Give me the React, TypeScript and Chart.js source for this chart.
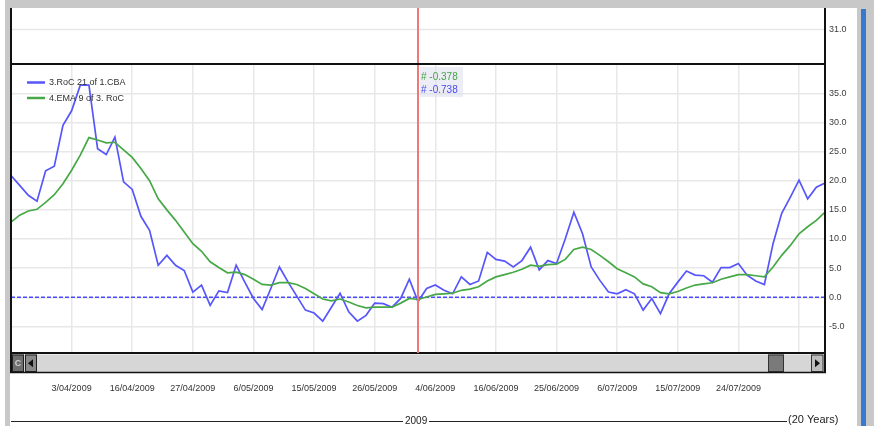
import React, { useEffect, useRef } from 'react';
import { Chart, registerables } from 'chart.js';

Chart.register(...registerables);

const dates = [
  '25/03/2009', '26/03/2009', '27/03/2009', '30/03/2009', '31/03/2009', '1/04/2009', '2/04/2009',
  '3/04/2009', '6/04/2009', '7/04/2009', '8/04/2009', '9/04/2009', '14/04/2009', '15/04/2009',
  '16/04/2009', '17/04/2009', '20/04/2009', '21/04/2009', '22/04/2009', '23/04/2009', '24/04/2009',
  '27/04/2009', '28/04/2009', '29/04/2009', '30/04/2009', '1/05/2009', '4/05/2009', '5/05/2009',
  '6/05/2009', '7/05/2009', '8/05/2009', '11/05/2009', '12/05/2009', '13/05/2009', '14/05/2009',
  '15/05/2009', '18/05/2009', '19/05/2009', '20/05/2009', '21/05/2009', '22/05/2009', '25/05/2009',
  '26/05/2009', '27/05/2009', '28/05/2009', '29/05/2009', '1/06/2009', '2/06/2009', '3/06/2009',
  '4/06/2009', '5/06/2009', '9/06/2009', '10/06/2009', '11/06/2009', '12/06/2009', '15/06/2009',
  '16/06/2009', '17/06/2009', '18/06/2009', '19/06/2009', '22/06/2009', '23/06/2009', '24/06/2009',
  '25/06/2009', '26/06/2009', '29/06/2009', '30/06/2009', '1/07/2009', '2/07/2009', '3/07/2009',
  '6/07/2009', '7/07/2009', '8/07/2009', '9/07/2009', '10/07/2009', '13/07/2009', '14/07/2009',
  '15/07/2009', '16/07/2009', '17/07/2009', '20/07/2009', '21/07/2009', '22/07/2009', '23/07/2009',
  '24/07/2009', '27/07/2009', '28/07/2009', '29/07/2009', '30/07/2009', '31/07/2009', '3/08/2009',
  '4/08/2009', '5/08/2009', '6/08/2009', '7/08/2009',
];

const rocValues = [
  20.9, 19.2, 17.5, 16.5, 21.7, 22.5, 29.5, 32.0, 36.4, 36.4,
  25.5, 24.5, 27.5, 19.8, 18.5, 13.9, 11.5, 5.5, 7.2, 5.5,
  4.6, 0.9, 2.1, -1.4, 1.1, 0.8, 5.5, 2.6, -0.2, -2.1,
  1.5, 5.2, 2.6, 0.2, -2.2, -2.7, -4.1, -1.7, 0.7, -2.5,
  -4.1, -3.1, -1.0, -1.1, -1.7, -0.2, 3.1, -0.738, 1.5, 2.1,
  1.2, 0.6, 3.5, 2.2, 2.8, 7.7, 6.5, 6.2, 5.2, 6.3,
  8.6, 4.7, 6.3, 5.8, 10.0, 14.6, 10.9, 5.2, 2.9, 0.9,
  0.6, 1.3, 0.6, -2.2, -0.2, -2.8, 0.6, 2.6, 4.5, 3.8,
  3.7, 2.6, 5.1, 5.1, 5.8, 3.8, 2.8, 2.2, 9.2, 14.4,
  17.2, 20.1, 16.9, 18.9, 19.6,
];

const emaValues = [
  12.9, 14.1, 14.8, 15.1, 16.3, 17.6, 19.5, 21.8, 24.4, 27.4,
  27.0, 26.5, 26.6, 25.3, 24.0, 22.1, 20.0, 16.9, 15.0, 13.2,
  11.2, 9.2, 7.9, 6.1, 5.1, 4.2, 4.3, 3.9, 3.1, 2.2,
  2.1, 2.5, 2.5, 2.2, 1.5, 0.6, -0.3, -0.6, -0.3, -0.8,
  -1.4, -1.8, -1.7, -1.7, -1.7, -1.0, -0.2, -0.378, 0.05, 0.5,
  0.6, 0.7, 1.2, 1.4, 1.8, 2.8, 3.5, 3.9, 4.3, 4.8,
  5.5, 5.3, 5.6, 5.7, 6.5, 8.2, 8.6, 8.2, 7.2, 6.1,
  4.9, 4.2, 3.5, 2.3, 1.8, 0.8, 0.6, 1.0, 1.6, 2.1,
  2.3, 2.5, 3.1, 3.5, 3.9, 3.9, 3.7, 3.5, 5.2, 7.2,
  8.9, 10.9, 12.1, 13.2, 14.6,
];

const tickLabels = [
  '3/04/2009', '16/04/2009', '27/04/2009', '6/05/2009', '15/05/2009', '26/05/2009',
  '4/06/2009', '16/06/2009', '25/06/2009', '6/07/2009', '15/07/2009', '24/07/2009',
];
const gridOnlyDates = ['4/08/2009'];

const yTicks = [-5, 0, 5, 10, 15, 20, 25, 30, 35];
const topPanelTick = '31.0';
const seriesNames = ['3.RoC 21 of 1.CBA', '4.EMA 9 of 3. RoC'];
const cursorIndex = 47;
const yearLabel = '2009';
const spanLabel = '(20 Years)';

const BLUE = '#5656fa';
const GREEN = '#46a846';
const FONT = '"Liberation Sans", Arial, sans-serif';

const decorPlugin = {
  id: 'decor',
  beforeDraw(chart: any) {
    const { ctx, chartArea: a, width, height } = chart;
    ctx.save();
    ctx.fillStyle = '#ffffff';
    ctx.fillRect(0, 0, width, height);
    ctx.fillStyle = '#c8c8c8';
    ctx.fillRect(5, 0, 855, 8);
    ctx.fillRect(5, 0, 5, height);
    ctx.fillRect(857, 0, width - 857, height);
    ctx.fillStyle = '#3878d0';
    ctx.fillRect(861, 9, 5, height - 9);
    ctx.strokeStyle = '#e8e8e8';
    ctx.lineWidth = 1.5;
    ctx.beginPath();
    ctx.moveTo(a.left, 29.5);
    ctx.lineTo(a.right, 29.5);
    ctx.stroke();
    ctx.fillStyle = '#404040';
    ctx.font = '9px ' + FONT;
    ctx.textBaseline = 'middle';
    ctx.textAlign = 'left';
    ctx.fillText(topPanelTick, a.right + 4, 30);
    ctx.restore();
  },
  beforeDatasetsDraw(chart: any) {
    const { ctx, chartArea: a, scales } = chart;
    const y0 = scales.y.getPixelForValue(0);
    ctx.save();
    ctx.strokeStyle = '#4c4cff';
    ctx.lineWidth = 1.4;
    ctx.setLineDash([4, 2]);
    ctx.beginPath();
    ctx.moveTo(a.left, y0);
    ctx.lineTo(a.right, y0);
    ctx.stroke();
    ctx.restore();
  },
  afterDatasetsDraw(chart: any) {
    const { ctx, chartArea: a, scales } = chart;
    ctx.save();
    const rows = [
      { name: seriesNames[0], color: BLUE, y: 82.5 },
      { name: seriesNames[1], color: GREEN, y: 98 },
    ];
    ctx.font = '9px ' + FONT;
    ctx.textBaseline = 'middle';
    ctx.textAlign = 'left';
    rows.forEach((r) => {
      ctx.strokeStyle = r.color;
      ctx.lineWidth = 2.5;
      ctx.beginPath();
      ctx.moveTo(27, r.y);
      ctx.lineTo(45, r.y);
      ctx.stroke();
      ctx.fillStyle = '#303030';
      ctx.fillText(r.name, 49, r.y + 0.5);
    });
    const cx = scales.x.getPixelForValue(cursorIndex);
    ctx.strokeStyle = '#f07878';
    ctx.lineWidth = 2;
    ctx.beginPath();
    ctx.moveTo(cx, 8);
    ctx.lineTo(cx, a.bottom);
    ctx.stroke();
    ctx.fillStyle = 'rgba(222,222,236,0.55)';
    ctx.fillRect(cx + 2, 67, 43, 30);
    ctx.font = '10px ' + FONT;
    ctx.fillStyle = '#48a048';
    ctx.fillText('# ' + emaValues[cursorIndex].toFixed(3), cx + 3, 77.5);
    ctx.fillStyle = '#4a4af0';
    ctx.fillText('# ' + rocValues[cursorIndex].toFixed(3), cx + 3, 90);
    ctx.restore();
  },
  afterDraw(chart: any) {
    const { ctx, chartArea: a } = chart;
    ctx.save();
    ctx.strokeStyle = '#111';
    ctx.lineWidth = 2;
    ctx.beginPath();
    ctx.moveTo(11, 8);
    ctx.lineTo(11, 373);
    ctx.moveTo(a.right, 8);
    ctx.lineTo(a.right, 373);
    ctx.moveTo(10, 64);
    ctx.lineTo(a.right, 64);
    ctx.stroke();
    const sTop = a.bottom + 1.5;
    const sBot = 372;
    ctx.fillStyle = '#d6d6d6';
    ctx.fillRect(12, sTop, a.right - 13, sBot - sTop);
    ctx.fillStyle = '#6e6e6e';
    ctx.fillRect(12, sTop, 12, sBot - sTop);
    ctx.fillStyle = '#8a8a8a';
    ctx.fillRect(25, sTop, 12, sBot - sTop);
    ctx.strokeStyle = '#222';
    ctx.lineWidth = 1;
    ctx.strokeRect(12.5, sTop + 0.5, 11, sBot - sTop - 1);
    ctx.strokeRect(25.5, sTop + 0.5, 11, sBot - sTop - 1);
    ctx.fillStyle = '#cfcfcf';
    ctx.font = 'bold 9px ' + FONT;
    ctx.textAlign = 'center';
    ctx.textBaseline = 'middle';
    ctx.fillText('C', 18, (sTop + sBot) / 2 + 0.5);
    ctx.fillStyle = '#111';
    ctx.beginPath();
    ctx.moveTo(28, (sTop + sBot) / 2);
    ctx.lineTo(33, (sTop + sBot) / 2 - 4);
    ctx.lineTo(33, (sTop + sBot) / 2 + 4);
    ctx.closePath();
    ctx.fill();
    ctx.fillStyle = '#7a7a7a';
    ctx.fillRect(768, sTop, 16, sBot - sTop);
    ctx.strokeStyle = '#333';
    ctx.strokeRect(768.5, sTop + 0.5, 15, sBot - sTop - 1);
    ctx.fillStyle = '#bdbdbd';
    ctx.fillRect(811, sTop, 12, sBot - sTop);
    ctx.strokeRect(811.5, sTop + 0.5, 11.5, sBot - sTop - 1);
    ctx.fillStyle = '#111';
    ctx.beginPath();
    ctx.moveTo(820, (sTop + sBot) / 2);
    ctx.lineTo(815, (sTop + sBot) / 2 - 4);
    ctx.lineTo(815, (sTop + sBot) / 2 + 4);
    ctx.closePath();
    ctx.fill();
    ctx.strokeStyle = '#111';
    ctx.lineWidth = 1.5;
    ctx.beginPath();
    ctx.moveTo(10, sBot + 0.5);
    ctx.lineTo(a.right + 1, sBot + 0.5);
    ctx.stroke();
    ctx.lineWidth = 1;
    ctx.strokeStyle = '#222';
    ctx.beginPath();
    ctx.moveTo(11, 421.5);
    ctx.lineTo(403, 421.5);
    ctx.moveTo(429, 421.5);
    ctx.lineTo(787, 421.5);
    ctx.stroke();
    ctx.fillStyle = '#222';
    ctx.font = '10px ' + FONT;
    ctx.textAlign = 'left';
    ctx.textBaseline = 'middle';
    ctx.fillText(yearLabel, 405, 421);
    ctx.font = '11px ' + FONT;
    ctx.fillText(spanLabel, 788, 420);
    ctx.restore();
  },
};

export default function App() {
  const ref = useRef<HTMLCanvasElement>(null);
  useEffect(() => {
    const canvas = ref.current!;
    const chart = new Chart(canvas, {
      type: 'line',
      data: {
        labels: dates,
        datasets: [
          {
            label: seriesNames[1],
            data: emaValues,
            borderColor: GREEN,
            borderWidth: 1.7,
            pointRadius: 0,
            tension: 0,
          },
          {
            label: seriesNames[0],
            data: rocValues,
            borderColor: BLUE,
            borderWidth: 1.7,
            pointRadius: 0,
            tension: 0,
          },
        ],
      },
      options: {
        responsive: false,
        animation: false,
        events: [],
        layout: { padding: { left: 11, top: 65, right: 0, bottom: 0 } },
        plugins: { legend: { display: false }, tooltip: { enabled: false } },
        scales: {
          x: {
            type: 'category',
            offset: false,
            grid: { color: '#e8e8e8', lineWidth: 1.5, drawTicks: false },
            border: { display: true, color: '#111', width: 2 },
            ticks: {
              autoSkip: false,
              maxRotation: 0,
              padding: 30,
              color: '#333',
              font: { size: 9, family: FONT },
              callback: (_v: any, i: number) => {
                const d = dates[i];
                if (tickLabels.includes(d)) return d;
                if (gridOnlyDates.includes(d)) return '';
                return null;
              },
            },
            afterFit: (s: any) => {
              s.height = 73;
            },
          },
          y: {
            position: 'right',
            min: -9.56,
            max: 39.86,
            grid: { color: '#e8e8e8', lineWidth: 1.5, drawTicks: false },
            border: { display: true, color: '#111', width: 2 },
            afterBuildTicks: (s: any) => {
              s.ticks = yTicks.map((value) => ({ value }));
            },
            ticks: {
              padding: 4,
              color: '#404040',
              font: { size: 9, family: FONT },
              callback: (v: any) => Number(v).toFixed(1),
            },
            afterFit: (s: any) => {
              s.width = 49;
            },
          },
        },
      },
      plugins: [decorPlugin],
    });
    return () => chart.destroy();
  }, []);
  return (
    <div style={{ position: 'fixed', left: 0, top: 0, width: 874, height: 426, background: '#fff' }}>
      <canvas ref={ref} width={874} height={426} style={{ display: 'block', width: 874, height: 426 }} />
    </div>
  );
}
